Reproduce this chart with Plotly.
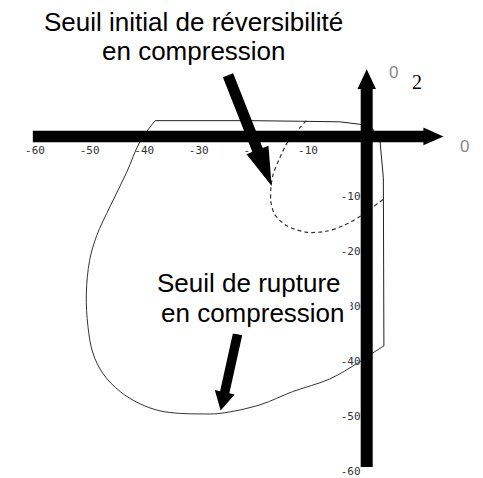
import math
import plotly.graph_objects as go

W, H = 483, 478

# Axis window (stress units); the origin sits near the upper right
X_RANGE = [-66.41, 22.05]
Y_RANGE = [-60.27, 25.55]

TICK_X = [-60, -50, -40, -30, -20, -10]
TICK_X_TEXT = ["-60", "-50", "-40", "-30", "-20", "-10"]
TICK_Y = [-10, -20, -30, -40, -50, -60]
TICK_Y_TEXT = ["-10", "-20", "-30", "-40", "-50", "-60"]

# Failure envelope (seuil de rupture) in the (sigma1, sigma2) plane.
# Points run from the upper-left vertex down the curved side to the
# lower-right corner, then back up the straight tension edges.
rupture_s1 = [-38.0, -40.8, -43.2, -46.2, -48.7, -50.0, -50.6, -50.3, -49.4,
              -47.5, -44.4, -40.8, -37.1, -33.5, -29.8, -26.1, -18.8, -12.8,
              -6.0, -0.8, 1.7, 3.9,
              3.8, 3.8, 3.2, 1.9, -0.5, -4.2, -11.4, -20.6, -38.0]
rupture_s2 = [3.66, -0.2, -5.7, -11.8, -17.2, -21.7, -27.8, -33.7, -38.5,
              -42.3, -45.5, -47.7, -49.0, -49.45, -49.55, -49.45, -47.9, -45.5,
              -43.2, -40.25, -38.6, -37.2,
              -19.4, -6.7, -0.2, 2.1, 3.0, 3.45, 3.55, 3.66, 3.66]
CURVED_END = 22  # first 22 points form the smooth part

# Initial reversibility threshold (seuil initial de réversibilité)
elastic_s1 = [-10.3, -11.4, -13.7, -15.2, -16.4, -16.8, -16.8, -16.1, -13.9,
              -10.2, -6.6, -3.55, -0.5, 1.9, 4.1]
elastic_s2 = [3.66, 2.47, -0.2, -3.16, -6.13, -8.6, -11.0, -13.35, -15.4,
              -16.6, -16.4, -15.4, -13.75, -12.0, -10.4]

kx = W / (X_RANGE[1] - X_RANGE[0])
ky = H / (Y_RANGE[1] - Y_RANGE[0])


def arrow_path(tail, tip, shaft, head_len, head_w):
    """Filled block arrow; widths are in screen pixels, ends in data units."""
    tx, ty = tail[0] * kx, -tail[1] * ky
    hx, hy = tip[0] * kx, -tip[1] * ky
    dx, dy = hx - tx, hy - ty
    L = math.hypot(dx, dy)
    ux, uy = dx / L, dy / L
    nx, ny = -uy, ux
    bx, by = hx - ux * head_len, hy - uy * head_len
    pts = [
        (tx + nx * shaft / 2, ty + ny * shaft / 2),
        (bx + nx * shaft / 2, by + ny * shaft / 2),
        (bx + nx * head_w / 2, by + ny * head_w / 2),
        (hx, hy),
        (bx - nx * head_w / 2, by - ny * head_w / 2),
        (bx - nx * shaft / 2, by - ny * shaft / 2),
        (tx - nx * shaft / 2, ty - ny * shaft / 2),
    ]
    d = "M " + " L ".join(f"{px / kx:.4f},{-py / ky:.4f}" for px, py in pts) + " Z"
    return dict(type="path", path=d, xref="x", yref="y", fillcolor="black",
                line=dict(width=0), layer="above")


fig = go.Figure()

fig.add_trace(go.Scatter(
    x=rupture_s1[:CURVED_END], y=rupture_s2[:CURVED_END], mode="lines",
    line=dict(color="#333333", width=1, shape="spline", smoothing=1.0),
    hoverinfo="skip"))
fig.add_trace(go.Scatter(
    x=rupture_s1[CURVED_END - 1:], y=rupture_s2[CURVED_END - 1:], mode="lines",
    line=dict(color="#222222", width=1), hoverinfo="skip"))
fig.add_trace(go.Scatter(
    x=elastic_s1, y=elastic_s2, mode="lines",
    line=dict(color="#333333", width=1.2, dash="4px,3px", shape="spline",
              smoothing=0.8),
    hoverinfo="skip"))

shapes = [
    arrow_path((-60.4, 0.8), (14.8, 0.8), 11.6, 20, 18),         # sigma1 axis
    arrow_path((0.75, -59.2), (0.75, 13.0), 12, 20, 18.5),       # sigma2 axis
    arrow_path((-24.65, 11.9), (-16.65, -8.2), 11, 39, 23.5),    # to elastic limit
    arrow_path((-22.9, -35.1), (-26.0, -48.95), 9.5, 19, 20.3),  # to failure curve
]

sans = "Liberation Sans, Arial, sans-serif"
annotations = [
    dict(x=-30.97, y=21.5, text="Seuil initial de réversibilité"),
    dict(x=-30.8, y=16.25, text="en compression"),
    # second line first, so its white box sits under the first line
    dict(x=-38.0, y=-31.17, text="en compression", xanchor="left",
         bgcolor="white", borderpad=5),
    dict(x=-38.0, y=-25.85, text="Seuil de rupture", xanchor="left"),
]
for a in annotations:
    a.setdefault("xanchor", "center")
    a.update(xref="x", yref="y", yanchor="middle", showarrow=False,
             font=dict(family=sans, size=26, color="black"))

glyph_font = dict(family="Liberation Sans", size=17, color="#888888")
annotations += [
    dict(x=5.57, y=12.44, text="0", showarrow=False, xref="x", yref="y",
         font=glyph_font),
    dict(x=9.96, y=10.59, text="2", showarrow=False, xref="x", yref="y",
         font=dict(family="Liberation Serif", size=20, color="black")),
    dict(x=18.75, y=-1.02, text="0", showarrow=False, xref="x", yref="y",
         font=glyph_font),
]

tick_font = dict(family="DejaVu Sans Mono, monospace", size=11, color="#333333")
pos_x_axis = (0 - Y_RANGE[0]) / (Y_RANGE[1] - Y_RANGE[0])
pos_y_axis = (0 - X_RANGE[0]) / (X_RANGE[1] - X_RANGE[0])

fig.update_layout(
    width=W, height=H, margin=dict(l=0, r=0, t=0, b=0, pad=0),
    paper_bgcolor="white", plot_bgcolor="white", showlegend=False,
    shapes=shapes, annotations=annotations,
    xaxis=dict(range=X_RANGE, anchor="free", position=pos_x_axis,
               tickvals=TICK_X, ticktext=TICK_X_TEXT, tickfont=tick_font,
               showgrid=False, zeroline=False, showline=False, ticks="",
               ticklabelstandoff=1, ticklabeloverflow="allow",
               fixedrange=True),
    yaxis=dict(range=Y_RANGE, anchor="free", position=pos_y_axis, side="left",
               tickvals=TICK_Y, ticktext=TICK_Y_TEXT, tickfont=tick_font,
               showgrid=False, zeroline=False, showline=False, ticks="",
               ticklabelstandoff=2, ticklabeloverflow="allow",
               fixedrange=True),
)

fig.write_html("out.html")
